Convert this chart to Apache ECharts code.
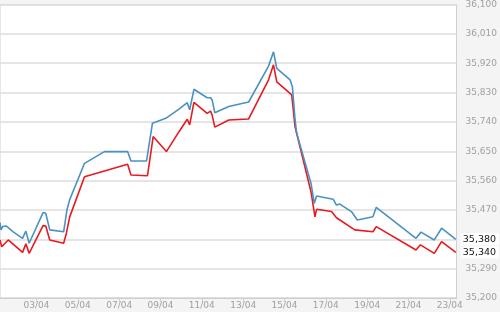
<!DOCTYPE html>
<html>
<head>
<meta charset="utf-8">
<script src="https://cdn.jsdelivr.net/npm/echarts@6/dist/echarts.min.js"></script>
<style>html,body{margin:0;padding:0;background:#f4f4f4}#c{width:500px;height:312px}</style>
</head>
<body>
<div id="c"></div>
<script>
// x values: fractional day of April
const blueDays = [1.234,1.282,1.364,1.46,1.522,1.633,1.874,2.326,2.485,2.644,3.318,3.448,3.64,4.314,4.473,4.603,5.324,6.287,7.408,7.572,8.323,8.611,9.256,9.896,10.296,10.411,10.618,11.258,11.34,11.422,11.499,11.629,12.303,13.265,14.228,14.468,14.627,15.271,15.382,15.512,15.589,16.282,16.441,16.552,17.355,17.514,17.678,18.236,18.525,19.28,19.439,21.364,21.605,22.249,22.6,23.289];
const blueValues = [35431,35409,35419,35414,35421,35416,35403,35383,35405,35368,35462,35460,35409,35403,35470,35501,35613,35649,35649,35620,35620,35736,35751,35779,35799,35777,35840,35814,35810,35814,35807,35768,35787,35801,35911,35955,35904,35869,35848,35746,35705,35552,35490,35513,35503,35485,35488,35465,35439,35449,35478,35383,35402,35378,35414,35380];
const redDays = [1.234,1.316,1.633,2.326,2.485,2.644,3.318,3.448,3.64,4.314,4.444,4.603,5.324,7.408,7.572,8.371,8.645,9.285,9.896,10.296,10.411,10.618,11.258,11.422,11.499,11.629,12.303,13.265,14.228,14.468,14.627,15.349,15.512,16.282,16.474,16.552,17.273,17.514,18.4,19.28,19.439,21.364,21.576,22.249,22.6,23.289];
const redValues = [35378,35357,35378,35340,35366,35337,35422,35421,35378,35368,35398,35448,35572,35610,35577,35575,35695,35649,35710,35748,35731,35800,35766,35773,35761,35724,35746,35749,35869,35915,35863,35823,35725,35526,35449,35472,35465,35446,35409,35403,35419,35347,35363,35337,35373,35340];
const xTickDays = [1,3,5,7,9,11,13,15,17,19,21,23];
const yTicks = [35200,35290,35380,35470,35560,35650,35740,35830,35920,36010,36100];

const fmtNum = v => Math.round(v).toString().replace(/\B(?=(\d{3})+(?!\d))/g, ',');
const fmtDay = d => (d < 10 ? '0' + d : '' + d) + '/04';
const zip = (a, b) => a.map((x, i) => [x, b[i]]);

const chart = echarts.init(document.getElementById('c'), null, {renderer: 'canvas'});
const endLabel = (c) => ({
  show: true,
  formatter: p => fmtNum(p.value[1]),
  color: '#111',
  fontFamily: 'DejaVu Sans',
  fontSize: 9.5,
  backgroundColor: '#fff',
  padding: [1, 3, 1, 2],
  distance: 5
});
chart.setOption({
  animation: false,
  backgroundColor: '#f4f4f4',
  textStyle: {fontFamily: 'DejaVu Sans'},
  grid: {left: 0, right: 41, top: 4.5, bottom: 14, show: true, backgroundColor: '#fff', borderColor: '#cfcfcf', borderWidth: 1, containLabel: false},
  xAxis: {
    type: 'value',
    min: 1.234, max: 23.323,
    axisLine: {show: true, lineStyle: {color: '#cfcfcf', width: 1}},
    axisTick: {show: true, customValues: xTickDays, length: 4, lineStyle: {color: '#cfcfcf'}},
    axisLabel: {show: true, customValues: xTickDays, formatter: v => fmtDay(Math.round(v)), color: '#a0a0a0', fontSize: 9, margin: 3, hideOverlap: false},
    splitLine: {show: false}
  },
  yAxis: {
    type: 'value',
    position: 'right',
    min: 35200, max: 36100, interval: 90,
    axisLine: {show: false},
    axisTick: {show: false},
    axisLabel: {color: '#a0a0a0', fontSize: 9, margin: 9, formatter: v => fmtNum(v)},
    splitLine: {show: true, lineStyle: {color: '#dcdcdc', width: 1.5}}
  },
  series: [
    {type: 'line', data: zip(blueDays, blueValues), showSymbol: false, symbol: 'none', lineStyle: {color: '#4a92c3', width: 1.6}, itemStyle: {color: '#4a92c3'}, endLabel: endLabel(), z: 3},
    {type: 'line', data: zip(redDays, redValues), showSymbol: false, symbol: 'none', lineStyle: {color: '#e8191f', width: 1.6}, itemStyle: {color: '#e8191f'}, endLabel: endLabel(), z: 2}
  ]
});
</script>
</body>
</html>
